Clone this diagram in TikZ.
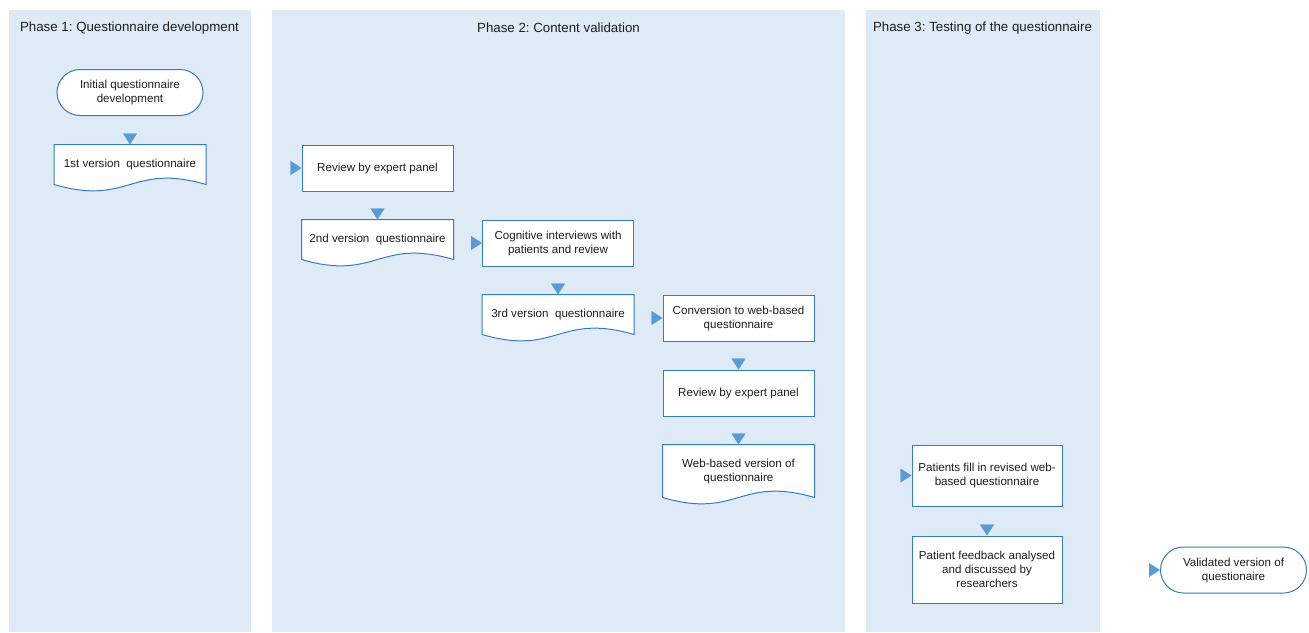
\documentclass[tikz,border=0pt]{standalone}
\usepackage{fontspec}
\setmainfont{Liberation Sans}
\usetikzlibrary{arrows.meta,decorations.markings,shapes.misc}

\definecolor{panelblue}{RGB}{222,234,246}
\definecolor{lineblue}{RGB}{52,125,192}
\definecolor{tipblue}{RGB}{91,155,213}
\definecolor{textgrey}{RGB}{30,30,30}

\pgfdeclarelayer{background}
\pgfdeclarelayer{shapes}
\pgfsetlayers{background,shapes,main}

% wavy bottom for the document boxes
\newcommand{\docwave}[1]{%
  \begin{pgfonlayer}{shapes}
  \draw[docline] (#1.north west) -- (#1.north east) -- (#1.south east)
    .. controls +(-75.5,-22) and +(75.5,22) .. (#1.south west) -- cycle;
  \end{pgfonlayer}}

\frenchspacing

\begin{document}
\begin{tikzpicture}[x=1pt,y=-1pt]

\tikzstyle{panel}=[fill=panelblue,draw=none]
\tikzstyle{phase}=[font=\fontsize{13.3}{16}\selectfont,text=textgrey]
\tikzstyle{box}=[rectangle,draw=lineblue,fill=white,line width=1pt,minimum width=151pt,minimum height=46pt,inner sep=2pt,align=center,text=textgrey,font=\fontsize{11.6}{14}\selectfont]
\tikzstyle{terminal}=[box,rounded rectangle,minimum width=150pt]
\tikzstyle{doc}=[box,draw=none,fill=none,minimum height=39pt]
\tikzstyle{docline}=[draw=lineblue,fill=white,line width=1pt]
\tikzstyle{flow}=[postaction={decorate},decoration={markings,mark=at position 1 with {\arrow[tipblue]{Triangle[width=14pt,length=11pt]}}}]

\useasboundingbox (0,0) rectangle (1309,632);

%Phase panels
\begin{pgfonlayer}{background}
\fill[panel] (9,10) rectangle (250.5,632);
\fill[panel] (272,10) rectangle (845,632);
\fill[panel] (866,10) rectangle (1099.5,632);
\end{pgfonlayer}

\node[phase] (p1) at (129.5,28) {Phase 1: Questionnaire development};
\node[phase] (p2) at (558.5,28) {Phase 2: Content validation};
\node[phase] (p3) at (982.5,28) {Phase 3: Testing of the questionnaire};

%Phase 1
\node[terminal] (init) at (130,92.5) {Initial questionnaire\\development};
\node[doc] (v1) at (130,164.5) {1st version\ \ questionnaire};
\docwave{v1}

%Phase 2
\node[box] (review1) at (377.5,168) {Review by expert panel};
\node[doc] (v2) at (377.5,239.5) {2nd version\ \ questionnaire};
\docwave{v2}
\node[box] (cog) at (558,243) {Cognitive interviews with\\patients and review};
\node[doc] (v3) at (558,314.5) {3rd version\ \ questionnaire};
\docwave{v3}
\node[box] (conv) at (738.5,318) {Conversion to web-based\\questionnaire};
\node[box] (review2) at (738.5,393) {Review by expert panel};
\node[doc,minimum height=52pt] (web) at (738.5,471) {Web-based version of\\questionnaire};
\docwave{web}

%Phase 3
\node[box,minimum width=150pt,minimum height=61pt] (fill) at (987,475.5) {Patients fill in revised web-\\based questionnaire};
\node[box,minimum width=150pt,minimum height=67pt] (feedback) at (987,569.5) {Patient feedback analysed\\and discussed by\\researchers};
\node[terminal] (valid) at (1233.5,570) {Validated version of\\questionaire};

%connections, only the tips are shown
\path[flow] (init) -- (v1);
\path[flow] (v1.east |- review1) -- (review1);
\path[flow] (review1) -- (v2);
\path[flow] (v2.east |- cog) -- (cog);
\path[flow] (cog) -- (v3);
\path[flow] (v3.east |- conv) -- (conv);
\path[flow] (conv) -- (review2);
\path[flow] (review2) -- (web);
\path[flow] (web.east |- fill) -- (fill);
\path[flow] (fill) -- (feedback);
\path[flow] (feedback.east |- valid) -- (valid);

\end{tikzpicture}
\end{document}
